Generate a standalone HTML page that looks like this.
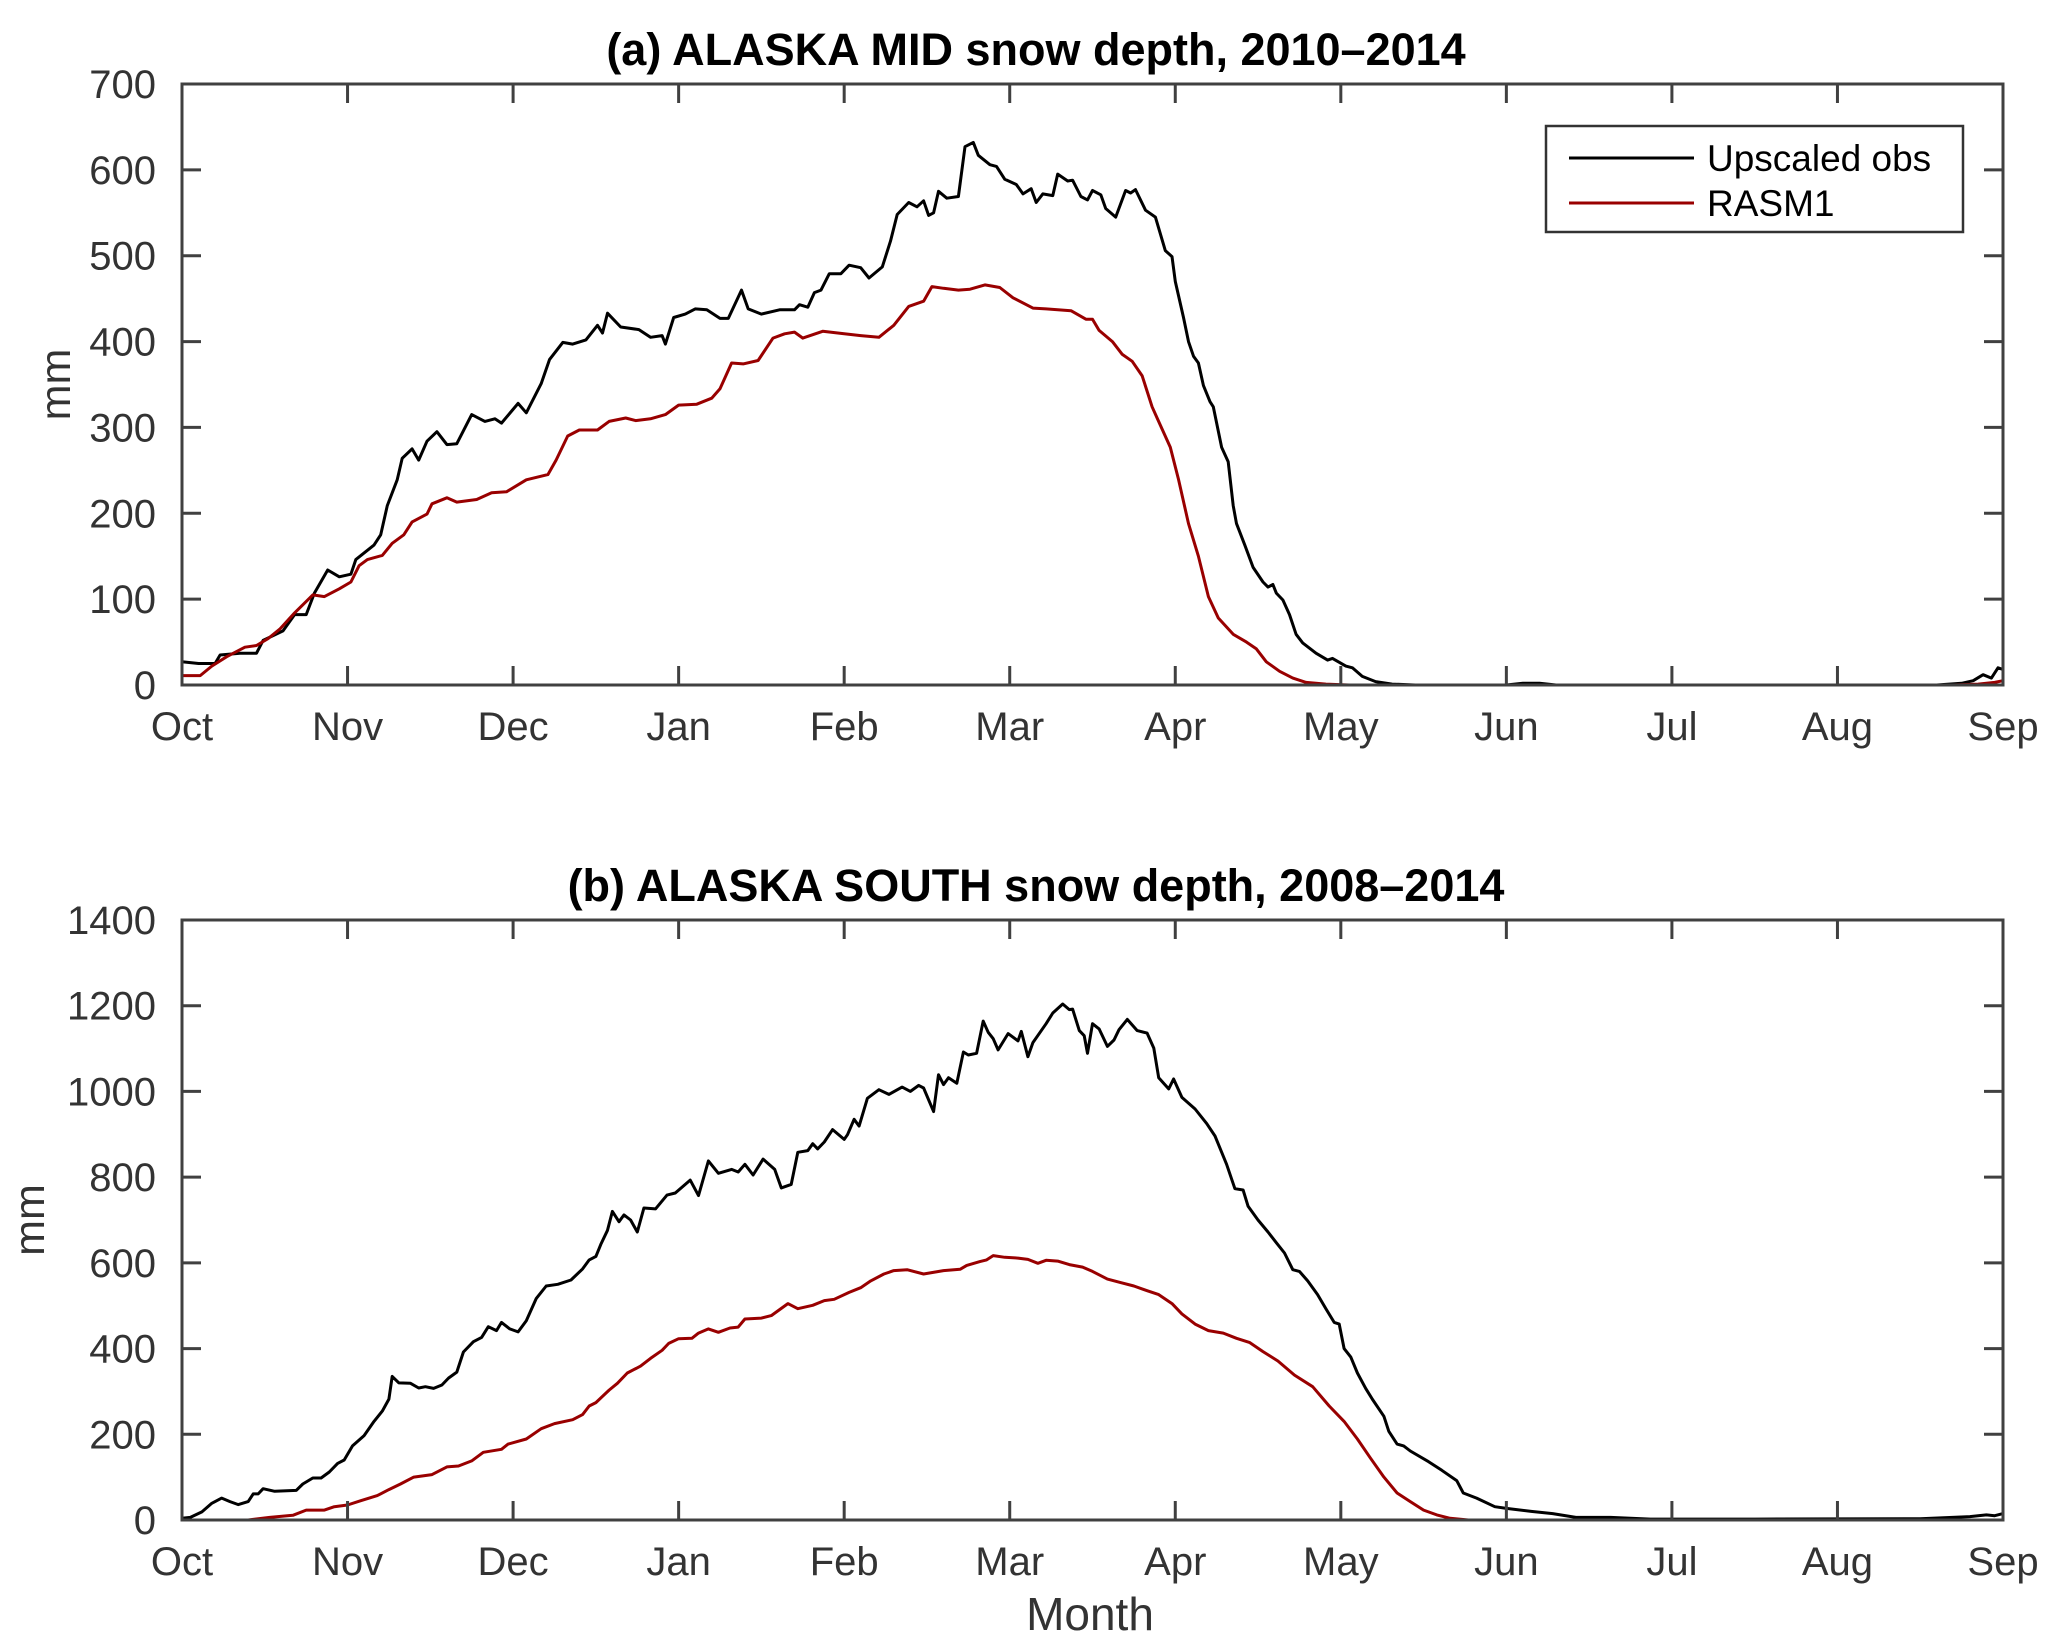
<!DOCTYPE html>
<html><head><meta charset="utf-8"><style>
html,body{margin:0;padding:0;background:#fff}
svg{display:block}
text{font-family:"Liberation Sans",Arial,sans-serif}
</style></head><body>
<svg id="fig" width="2067" height="1648" viewBox="0 0 2067 1648" xmlns="http://www.w3.org/2000/svg"></svg>
<script>
// ---- data (x = months since Oct 1, y = mm) ----
const monthLabels = ["Oct","Nov","Dec","Jan","Feb","Mar","Apr","May","Jun","Jul","Aug","Sep"];
const yTicksA = [0,100,200,300,400,500,600,700];
const yTicksB = [0,200,400,600,800,1000,1200,1400];

const obsAx = [0,0.1,0.2,0.23,0.35,0.45,0.49,0.61,0.68,0.75,0.8,0.88,0.95,1.02,1.05,1.16,1.2,1.24,1.3,1.33,1.39,1.43,1.48,1.54,1.6,1.66,1.75,1.83,1.89,1.93,2.03,2.08,2.17,2.22,2.3,2.36,2.44,2.51,2.54,2.57,2.65,2.76,2.83,2.9,2.92,2.97,3.04,3.1,3.17,3.25,3.3,3.38,3.42,3.5,3.61,3.7,3.73,3.78,3.82,3.86,3.91,3.98,4.03,4.1,4.15,4.23,4.28,4.32,4.39,4.44,4.48,4.51,4.54,4.57,4.62,4.69,4.73,4.78,4.81,4.88,4.92,4.97,5.04,5.08,5.13,5.16,5.2,5.26,5.29,5.35,5.38,5.43,5.47,5.5,5.55,5.58,5.64,5.7,5.73,5.76,5.82,5.88,5.94,5.98,6.0,6.05,6.08,6.11,6.14,6.17,6.21,6.23,6.28,6.32,6.35,6.37,6.42,6.47,6.53,6.56,6.59,6.61,6.65,6.69,6.73,6.77,6.85,6.92,6.95,7.03,7.07,7.13,7.21,7.31,7.45,8.0,8.1,8.2,8.3,9.0,10.0,10.6,10.75,10.82,10.88,10.93,10.97,11.0];
const obsAy = [27,25,25,35,37,37,52,63,82,82,107,134,126,129,146,163,175,209,239,264,275,262,284,295,280,281,315,307,310,305,328,317,351,379,399,397,402,419,410,433,417,414,405,407,397,428,432,438,437,427,427,460,438,432,437,437,443,440,457,460,479,479,489,486,474,487,517,548,562,557,564,547,550,575,567,569,627,632,617,606,604,589,583,572,578,562,572,570,595,587,588,569,565,576,571,555,545,576,573,577,553,545,506,499,470,428,400,383,375,349,330,324,277,260,209,188,163,137,120,114,117,107,99,82,59,49,37,29,31,22,20,10,4,1,0,0,2,2,0,0,0,0,2,5,12,8,20,18];

const rasmAx = [0,0.11,0.18,0.27,0.38,0.45,0.52,0.59,0.68,0.79,0.86,0.95,1.02,1.07,1.12,1.21,1.27,1.34,1.39,1.48,1.51,1.6,1.66,1.78,1.87,1.96,2.08,2.21,2.26,2.33,2.4,2.51,2.58,2.68,2.74,2.83,2.92,3.0,3.11,3.2,3.25,3.32,3.39,3.48,3.57,3.64,3.7,3.75,3.87,4.0,4.1,4.21,4.3,4.39,4.48,4.53,4.6,4.69,4.76,4.85,4.94,5.02,5.14,5.22,5.37,5.46,5.5,5.54,5.62,5.68,5.74,5.8,5.86,5.89,5.97,6.02,6.08,6.14,6.2,6.26,6.35,6.43,6.49,6.55,6.63,6.71,6.79,6.91,7.05,8,9,10,10.7,10.85,10.95,11.0];
const rasmAy = [11,11,22,33,44,46,54,65,84,105,103,112,120,139,146,151,165,175,190,199,211,218,213,216,224,225,239,245,262,290,297,297,307,311,308,310,315,326,327,334,345,375,374,378,404,409,411,404,412,409,407,405,419,441,447,464,462,460,461,466,463,451,439,438,436,426,426,413,400,385,377,360,324,311,277,239,188,150,103,78,59,50,42,27,16,8,3,1,0,0,0,0,0,1,3,5];

const obsBx = [0,0.05,0.12,0.18,0.24,0.29,0.34,0.4,0.43,0.46,0.49,0.56,0.69,0.73,0.79,0.84,0.89,0.94,0.98,1.03,1.1,1.16,1.21,1.25,1.27,1.31,1.38,1.43,1.47,1.52,1.57,1.61,1.66,1.7,1.76,1.81,1.85,1.9,1.93,1.98,2.03,2.08,2.14,2.2,2.27,2.35,2.42,2.46,2.5,2.53,2.57,2.6,2.64,2.67,2.71,2.75,2.79,2.86,2.93,2.98,3.07,3.12,3.18,3.24,3.32,3.36,3.4,3.45,3.51,3.58,3.62,3.68,3.72,3.78,3.81,3.84,3.88,3.93,4.0,4.02,4.06,4.09,4.14,4.21,4.27,4.35,4.4,4.45,4.48,4.54,4.57,4.6,4.63,4.68,4.72,4.75,4.8,4.84,4.87,4.9,4.93,4.99,5.05,5.07,5.11,5.14,5.22,5.26,5.32,5.36,5.38,5.42,5.45,5.47,5.5,5.54,5.59,5.63,5.66,5.71,5.77,5.83,5.87,5.9,5.96,5.99,6.04,6.12,6.19,6.24,6.31,6.36,6.41,6.44,6.5,6.56,6.61,6.66,6.71,6.75,6.8,6.86,6.91,6.96,6.99,7.02,7.06,7.1,7.15,7.19,7.26,7.29,7.34,7.38,7.42,7.53,7.61,7.7,7.74,7.82,7.93,8.0,8.15,8.28,8.42,8.63,8.87,9.5,10.5,10.8,10.9,10.95,11.0];
const obsBy = [4,6,19,39,51,43,36,43,61,61,73,67,69,84,98,98,112,132,140,173,197,230,254,282,335,320,319,308,311,307,315,331,345,392,416,426,451,442,461,446,439,465,517,546,550,560,586,607,615,643,676,720,696,712,700,672,728,726,758,763,793,757,838,809,818,812,830,805,842,818,775,783,858,862,878,866,882,911,888,899,935,919,984,1004,993,1010,1000,1014,1008,953,1039,1016,1032,1019,1092,1085,1089,1164,1138,1123,1097,1135,1118,1140,1081,1114,1158,1183,1204,1191,1192,1142,1130,1089,1158,1146,1105,1120,1144,1168,1142,1136,1101,1032,1006,1029,986,959,925,896,830,773,770,732,700,672,647,623,584,580,558,526,493,461,457,400,380,343,307,282,242,207,177,173,161,136,116,92,63,51,31,27,20,15,6,6,2,2,3,8,12,10,15];

const rasmBx = [0,0.4,0.53,0.67,0.75,0.86,0.92,1.0,1.08,1.18,1.25,1.32,1.4,1.51,1.6,1.67,1.75,1.82,1.93,1.97,2.08,2.17,2.25,2.36,2.42,2.46,2.5,2.58,2.63,2.69,2.77,2.83,2.9,2.94,3.0,3.08,3.12,3.18,3.24,3.31,3.36,3.4,3.5,3.56,3.66,3.72,3.81,3.88,3.94,4.03,4.1,4.16,4.24,4.3,4.38,4.48,4.6,4.7,4.74,4.82,4.86,4.9,4.97,5.05,5.11,5.17,5.22,5.29,5.36,5.44,5.5,5.59,5.67,5.75,5.83,5.9,5.98,6.04,6.12,6.2,6.29,6.37,6.45,6.53,6.62,6.72,6.83,6.93,7.02,7.1,7.18,7.26,7.34,7.42,7.5,7.58,7.66,7.77,9,11.0];
const rasmBy = [0,0,6,11,23,23,31,35,45,57,71,84,100,106,124,126,138,158,165,177,189,213,225,234,246,266,274,303,319,343,359,377,396,412,423,424,436,446,438,448,450,469,471,477,505,493,501,512,515,531,542,558,574,582,584,574,582,585,594,603,607,617,613,611,608,599,606,604,596,590,580,562,554,546,535,526,505,481,457,442,436,424,414,393,371,338,311,266,230,189,144,100,63,43,23,12,4,0,0,0];

// ---- layout ----
const NS = "http://www.w3.org/2000/svg";
const svg = document.getElementById('fig');
const X0 = 182, X1 = 2003;
const panels = [
  {top:84, bottom:685, ymax:700, yTicks:yTicksA, title:"(a) ALASKA MID snow depth, 2010\u20132014", titleY:65, key:"a",
   series:[{x:obsAx,y:obsAy,c:"#000000",n:"upscaled-obs-line"},{x:rasmAx,y:rasmAy,c:"#990000",n:"rasm1-line"}]},
  {top:920, bottom:1520, ymax:1400, yTicks:yTicksB, title:"(b) ALASKA SOUTH snow depth, 2008\u20132014", titleY:901, key:"b",
   series:[{x:obsBx,y:obsBy,c:"#000000",n:"upscaled-obs-line"},{x:rasmBx,y:rasmBy,c:"#990000",n:"rasm1-line"}]}
];
function mk(tag, attrs, parent){ const e=document.createElementNS(NS,tag); for(const k in attrs) e.setAttribute(k,attrs[k]); (parent||svg).appendChild(e); return e; }
function xs(m){ return X0 + (X1-X0)*m/11; }

panels.forEach(p=>{
  const ys = v => p.bottom - (p.bottom-p.top)*v/p.ymax;
  const g = mk('g',{});
  
  
  p.series.forEach(s=>{
    let d='';
    for(let i=0;i<s.x.length;i++){ d += (i?'L':'M')+xs(s.x[i]).toFixed(1)+','+ys(s.y[i]).toFixed(1); }
    const path = mk('path',{d:d,fill:'none',stroke:s.c,'stroke-width':3,'stroke-linejoin':'round'},g);
    
    
  });
  const box = mk('rect',{x:X0,y:p.top,width:X1-X0,height:p.bottom-p.top,fill:'none',stroke:'#404040','stroke-width':3},g);
  
  
  p.yTicks.forEach(v=>{
    const y=ys(v);
    mk('line',{x1:X0,x2:X0+19,y1:y,y2:y,stroke:'#404040','stroke-width':3},g);
    mk('line',{x1:X1,x2:X1-19,y1:y,y2:y,stroke:'#404040','stroke-width':3},g);
    const t=mk('text',{x:156,y:y+14,'text-anchor':'end','font-size':40,fill:'#333333'},g);
    t.textContent=v;
    
    
  });
  monthLabels.forEach((m,i)=>{
    const x=xs(i);
    mk('line',{x1:x,x2:x,y1:p.bottom,y2:p.bottom-19,stroke:'#404040','stroke-width':3},g);
    mk('line',{x1:x,x2:x,y1:p.top,y2:p.top+19,stroke:'#404040','stroke-width':3},g);
    const t=mk('text',{x:x,y:p.bottom+55,'text-anchor':'middle','font-size':40,fill:'#333333'},g);
    t.textContent=m;
    
    
  });
  const tt=mk('text',{x:1036,y:p.titleY,'text-anchor':'middle','font-size':45,'font-weight':'bold',fill:'#000'},g);
  tt.textContent=p.title;
  
  
  const cy=(p.top+p.bottom)/2;
  const yl=mk('text',{x:0,y:0,'text-anchor':'middle','font-size':43,fill:'#333333',transform:'translate('+(p.key==='a'?70:44)+','+cy+') rotate(-90)'},g);
  yl.textContent='mm';
  
  
});

const xt=mk('text',{x:1090,y:1630,'text-anchor':'middle','font-size':46,fill:'#333333'});
xt.textContent='Month';



const lg=mk('g',{});


mk('rect',{x:1546,y:126,width:417,height:106,fill:'#fff',stroke:'#333','stroke-width':2.5},lg);
const entries=[["Upscaled obs","#000000",158],["RASM1","#990000",203]];
entries.forEach(e=>{
  const l=mk('line',{x1:1569,x2:1694,y1:e[2],y2:e[2],stroke:e[1],'stroke-width':3},lg);
  
  
  const t=mk('text',{x:1707,y:e[2]+13,'font-size':37,fill:'#000'},lg);
  t.textContent=e[0];
  
  
});
</script>
</body></html>
